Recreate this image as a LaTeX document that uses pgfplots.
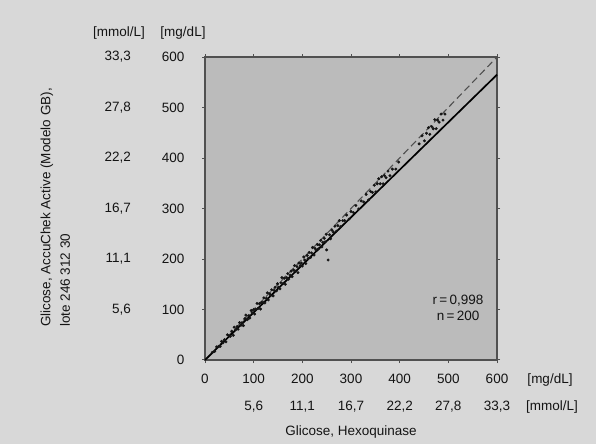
\documentclass[border=0pt]{standalone}
\usepackage{fontspec}
\setmainfont{Liberation Sans}
\usepackage{pgfplots}
\pgfplotsset{compat=1.18}
\definecolor{bgout}{HTML}{D8D8D8}
\definecolor{bgin}{HTML}{BBBBBB}
\definecolor{ink}{HTML}{141414}
\definecolor{framec}{HTML}{505050}
\newcommand{\lf}{\fontsize{13.5}{16}\selectfont}
\begin{document}
\begin{tikzpicture}[x=1pt,y=1pt,font=\lf]
\fill[bgout] (0,0) rectangle (596,444);
\useasboundingbox (0,0) rectangle (596,444);
\begin{axis}[at={(205pt,84pt)}, anchor=south west,
  width=292pt, height=303pt, scale only axis,
  xmin=0, xmax=600, ymin=0, ymax=600,
  axis background/.style={fill=bgin},
  axis line style={framec, line width=2pt},
  xtick={0,100,...,600}, ytick={0,100,...,600},
  tick align=outside, major tick length=3pt,
  tick style={framec, line width=1pt},
  tick label style={font=\lf, text=ink},
  /pgf/number format/assume math mode=true,
  xticklabel style={anchor=north, yshift=-8pt},
  yticklabel style={anchor=east, xshift=-14pt},
  clip=false]
\addplot[ink!75, line width=1.1pt, dash pattern=on 7pt off 4pt] coordinates {(0,0) (600,600)};
\addplot[only marks, mark=*, mark size=1.3pt, ink] coordinates {
(15,15) (20,17) (24,26) (28,27) (31,27) (34,37) (37,34) (40,40) (43,36) (46,50)
(49,48) (52,47) (55,57) (58,49) (60,65) (63,60) (66,66) (68,61) (71,74) (74,69)
(76,74) (79,68) (82,82) (84,89) (87,80) (90,88) (92,83) (95,98) (97,93) (100,100)
(102,91) (104,100) (107,112) (109,102) (112,112) (114,101) (116,114) (119,114) (121,123) (123,113)
(126,122) (128,133) (130,119) (133,131) (135,128) (137,139) (140,127) (142,138) (144,144) (147,137)
(149,151) (151,144) (154,141) (156,153) (158,163) (161,152) (163,162) (165,150) (168,163) (170,171)
(172,160) (175,168) (177,176) (179,165) (182,178) (184,187) (186,176) (189,185) (191,173) (193,192)
(196,187) (198,192) (200,186) (203,204) (205,198) (207,191) (210,207) (212,201) (214,213) (217,203)
(219,212) (221,223) (224,208) (226,221) (228,218) (231,229) (233,220) (235,228) (238,237) (240,224)
(242,233) (245,241) (247,234) (249,249) (250,218) (253,198) (256,248) (258,240) (261,257) (264,253)
(267,265) (270,255) (273,266) (276,276) (279,264) (283,276) (287,276) (291,287) (296,279) (300,294)
(305,292) (310,306) (316,299) (321,315) (326,313) (331,328) (336,317) (340,334) (344,332) (348,346)
(351,333) (354,349) (357,359) (360,349) (363,363) (366,349) (369,365) (372,361) (376,374) (380,365)
(385,378) (392,378) (398,392) (440,428) (446,444) (451,434) (455,449) (459,460) (462,447) (466,462)
(469,458) (472,476) (475,458) (478,475) (481,471) (485,487) (489,475) (493,487)
};
\addplot[black, line width=1.7pt] coordinates {(0,0) (600,565)};
\node[align=center, text=ink, inner sep=0pt] at (axis cs:520,103) {r\,=\,0,998\\n\,=\,200};
\end{axis}
\foreach \v/\t in {100/{5,6},200/{11,1},300/{16,7},400/{22,2},500/{27,8},600/{33,3}}{
  \node[anchor=east, text=ink, inner sep=0pt] at (131, 84+0.505*\v) {\t};
}
\foreach \v/\t in {100/{5,6},200/{11,1},300/{16,7},400/{22,2},500/{27,8},600/{33,3}}{
  \node[text=ink, inner sep=0pt] at (205+0.4867*\v, 37) {\t};
}
\node[text=ink, inner sep=0pt] at (119,411) {[mmol/L]};
\node[text=ink, inner sep=0pt] at (183,411) {[mg/dL]};
\node[text=ink, inner sep=0pt] at (550,64) {[mg/dL]};
\node[text=ink, inner sep=0pt] at (552,37) {[mmol/L]};
\node[text=ink, inner sep=0pt] at (351,12) {Glicose, Hexoquinase};
\node[text=ink, inner sep=0pt, rotate=90, anchor=west] at (47,117) {Glicose, AccuChek Active (Modelo GB),};
\node[text=ink, inner sep=0pt, rotate=90, anchor=west] at (65,117) {lote 246 312 30};
\end{tikzpicture}
\end{document}
